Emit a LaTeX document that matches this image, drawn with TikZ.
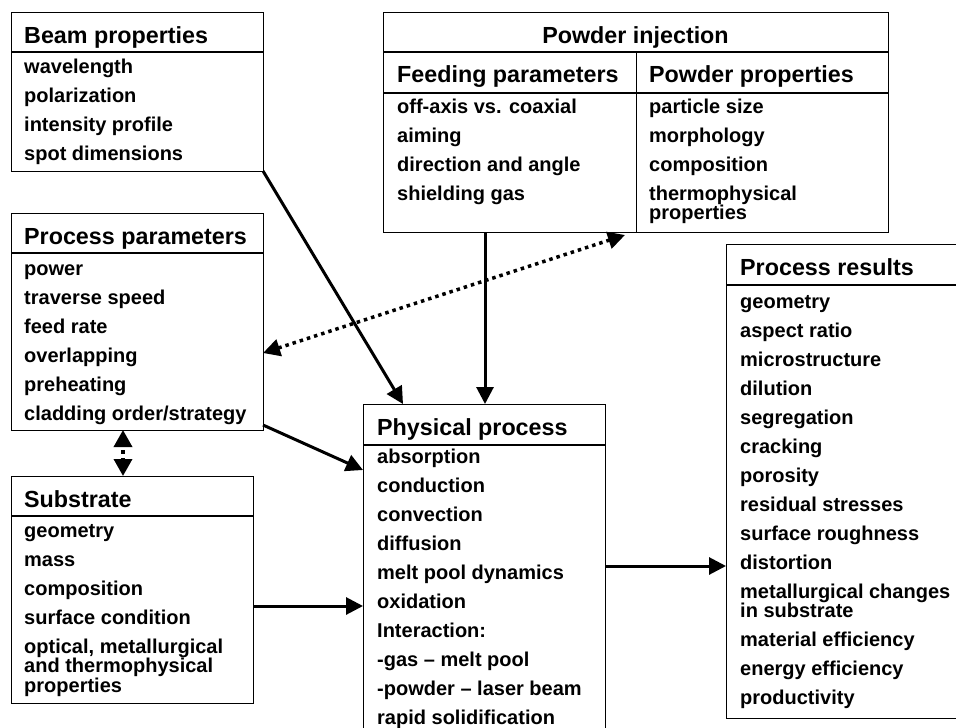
\documentclass[tikz,border=0pt]{standalone}
\usepackage{fontspec}
\setmainfont{Liberation Sans}
\usetikzlibrary{arrows.meta}
\tikzset{
  box/.style={draw, line width=1pt, anchor=north west, inner sep=0pt, outer sep=0pt},
  headline/.style={line width=2pt},
  headtext/.style={anchor=base west, inner sep=0pt, font=\fontsize{23.3}{28}\selectfont\bfseries},
  itemtext/.style={anchor=base west, inner sep=0pt, font=\fontsize{20}{29}\selectfont\bfseries},
  link/.style={line width=3pt, -{Triangle[length=17pt,width=17pt]}},
  duallink/.style={line width=3.5pt, dash pattern=on 3.5pt off 4pt,
    {Triangle[length=17pt,width=17pt]}-{Triangle[length=17pt,width=17pt]}}
}
% list of entries, baseline on the first line
\newcommand{\boxitems}[1]{\begin{tabular}[t]{@{}l@{}}#1\end{tabular}}
\newcommand{\wrapline}{\\[-9.5pt]}

\begin{document}
\begin{tikzpicture}[x=1pt, y=-1pt]
  \useasboundingbox (0,0) rectangle (956,728);
  % beam properties
  \node[box, minimum width=252pt, minimum height=159pt] (beam) at (11,12) {};
  \draw[headline] ([yshift=-40pt]beam.north west) -- ([yshift=-40pt]beam.north east);
  \node[headtext] (beamhead) at ([shift={(13,31)}]beam.north west) {Beam properties};
  \node[itemtext] (beamitems) at ([shift={(13,61)}]beam.north west)
    {\boxitems{wavelength\\polarization\\intensity profile\\spot dimensions}};
  % process parameters
  \node[box, minimum width=252pt, minimum height=217pt] (params) at (11,213) {};
  \draw[headline] ([yshift=-40pt]params.north west) -- ([yshift=-40pt]params.north east);
  \node[headtext] (paramshead) at ([shift={(13,31)}]params.north west) {Process parameters};
  \node[itemtext] (paramsitems) at ([shift={(13,62)}]params.north west)
    {\boxitems{power\\traverse speed\\feed rate\\overlapping\\preheating\\cladding order/strategy}};
  % substrate
  \node[box, minimum width=242pt, minimum height=227pt] (sub) at (11,476) {};
  \draw[headline] ([yshift=-40pt]sub.north west) -- ([yshift=-40pt]sub.north east);
  \node[headtext] (subhead) at ([shift={(13,31)}]sub.north west) {Substrate};
  \node[itemtext] (subitems) at ([shift={(13,61)}]sub.north west)
    {\boxitems{geometry\\mass\\composition\\surface condition\\
     optical, metallurgical\wrapline and thermophysical\wrapline properties}};
  % powder injection
  \node[box, minimum width=505pt, minimum height=220pt] (powder) at (383,12) {};
  \draw[headline] ([yshift=-40pt]powder.north west) -- ([yshift=-40pt]powder.north east);
  \draw[headline] ([yshift=-81pt]powder.north west) -- ([yshift=-81pt]powder.north east);
  \draw[line width=1pt] ([shift={(253,40)}]powder.north west) -- ([xshift=253pt]powder.south west);
  \node[headtext, anchor=base] (powderhead) at ([shift={(252.5,31)}]powder.north west) {Powder injection};
  \node[headtext] (feedhead) at ([shift={(14,70)}]powder.north west) {Feeding parameters};
  \node[headtext] (propshead) at ([shift={(266,70)}]powder.north west) {Powder properties};
  \node[itemtext] (feeditems) at ([shift={(14,101)}]powder.north west)
    {\boxitems{off-axis vs. coaxial\\aiming\\direction and angle\\shielding gas}};
  \node[itemtext] (propsitems) at ([shift={(266,101)}]powder.north west)
    {\boxitems{particle size\\morphology\\composition\\thermophysical\wrapline properties}};
  % physical process
  \node[box, minimum width=242pt, minimum height=331pt] (phys) at (363,404) {};
  \draw[headline] ([yshift=-41pt]phys.north west) -- ([yshift=-41pt]phys.north east);
  \node[headtext] (physhead) at ([shift={(14,31)}]phys.north west) {Physical process};
  \node[itemtext] (physitems) at ([shift={(14,59)}]phys.north west)
    {\boxitems{absorption\\conduction\\convection\\diffusion\\melt pool dynamics\\oxidation\\
     Interaction:\\-gas -- melt pool\\-powder -- laser beam\\rapid solidification}};
  % process results
  \node[box, minimum width=250pt, minimum height=474pt] (results) at (726,244) {};
  \draw[headline] ([yshift=-41pt]results.north west) -- ([yshift=-41pt]results.north east);
  \node[headtext] (resultshead) at ([shift={(14,31)}]results.north west) {Process results};
  \node[itemtext] (resultsitems) at ([shift={(14,64)}]results.north west)
    {\boxitems{geometry\\aspect ratio\\microstructure\\dilution\\segregation\\cracking\\porosity\\
     residual stresses\\surface roughness\\distortion\\
     metallurgical changes\wrapline in substrate\\material efficiency\\energy efficiency\\productivity}};
  % connectors
  \draw[link] (beam.south east) -- ([xshift=40pt]phys.north west);
  \draw[link] ([xshift=102pt]powder.south west) -- ([xshift=122pt]phys.north west);
  \draw[duallink] ([shift={(242,3)}]powder.south west) -- ([yshift=-140pt]params.north east);
  \draw[link] ([yshift=5pt]params.south east) -- ([yshift=-66pt]phys.north west);
  \draw[link] ([yshift=-130pt]sub.north east) -- ([yshift=-202pt]phys.north west);
  \draw[link] ([yshift=-162pt]phys.north east) -- ([yshift=-322pt]results.north west);
  \draw[line width=3.5pt, dash pattern=on 4pt off 4pt, dash phase=4pt,
    {Triangle[length=17pt,width=18pt]}-{Triangle[length=17pt,width=18pt]}]
    ([xshift=112pt]params.south west) -- ([xshift=112pt]sub.north west);
\end{tikzpicture}
\end{document}
